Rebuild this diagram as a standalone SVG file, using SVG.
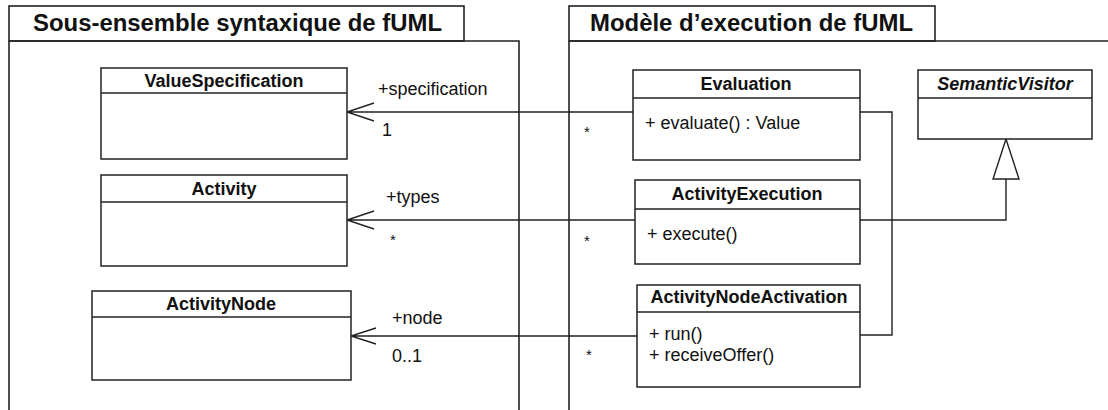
<svg xmlns="http://www.w3.org/2000/svg" width="1108" height="410" viewBox="0 0 1108 410">
<style>
.pk{fill:#fff;stroke:#222;stroke-width:1.6}
.pl{fill:none;stroke:#222;stroke-width:1.6}
.cls{fill:#fff;stroke:#222;stroke-width:1.5}
.ln{fill:none;stroke:#222;stroke-width:1.4}
.ptitle{font-family:"Liberation Sans",Arial,sans-serif;font-weight:bold;font-size:23px;fill:#111}
.cn{font-family:"Liberation Sans",Arial,sans-serif;font-weight:bold;font-size:18px;fill:#111;text-anchor:middle}
.it{font-style:italic}
.op{font-family:"Liberation Sans",Arial,sans-serif;font-size:18px;fill:#111}
.lb{font-family:"Liberation Sans",Arial,sans-serif;font-size:18px;fill:#111}
.st{font-family:"Liberation Sans",Arial,sans-serif;font-size:15px;fill:#111}
</style>
<rect width="1108" height="410" fill="#fff"/>
<g id="pkg-syntax">
<rect class="pk" x="9" y="6" width="455" height="35"/>
<path class="pl" d="M9,41 V412 M9,41 H519 V412"/>
<text class="ptitle" x="33" y="31" textLength="409" lengthAdjust="spacingAndGlyphs">Sous-ensemble syntaxique de fUML</text>
</g>
<g id="pkg-exec">
<rect class="pk" x="569" y="6" width="366" height="35"/>
<path class="pl" d="M569,41 V412 M569,41 H1110"/>
<text class="ptitle" x="590" y="31" textLength="323" lengthAdjust="spacingAndGlyphs">Modèle d’execution de fUML</text>
</g>
<g id="connectors">
<path class="ln" d="M633,112 H347 M374,103 L347,112 L374,121"/>
<path class="ln" d="M635,220 H347 M374,211 L347,220 L374,229"/>
<path class="ln" d="M637,336 H351 M376,328 L351,336 L376,344"/>
<path class="ln" d="M860,112 H892 V335 H860"/>
<path class="ln" d="M860,220 H1006 V179"/>
<polygon class="ln" points="1006,139 993,179 1019,179" fill="#fff"/>
<text class="lb" x="378" y="95">+specification</text>
<text class="lb" x="382" y="136">1</text>
<text class="st" x="584" y="137">*</text>
<text class="lb" x="386" y="203">+types</text>
<text class="st" x="390" y="245">*</text>
<text class="st" x="584" y="246">*</text>
<text class="lb" x="392" y="324">+node</text>
<text class="lb" x="392" y="362">0..1</text>
<text class="st" x="586" y="360">*</text>
</g>
<g id="ValueSpecification">
<rect class="cls" x="101" y="68" width="246" height="91"/>
<line class="cls" x1="101" y1="93" x2="347" y2="93"/>
<text class="cn" x="224" y="87">ValueSpecification</text>
</g>
<g id="Activity">
<rect class="cls" x="101" y="175" width="246" height="91"/>
<line class="cls" x1="101" y1="202" x2="347" y2="202"/>
<text class="cn" x="224" y="195">Activity</text>
</g>
<g id="ActivityNode">
<rect class="cls" x="92" y="291" width="259" height="89"/>
<line class="cls" x1="92" y1="317" x2="351" y2="317"/>
<text class="cn" x="221" y="310">ActivityNode</text>
</g>
<g id="Evaluation">
<rect class="cls" x="633" y="70" width="227" height="90"/>
<line class="cls" x1="633" y1="98" x2="860" y2="98"/>
<text class="cn" x="746" y="90">Evaluation</text>
<text class="op" x="645" y="129">+ evaluate() : Value</text>
</g>
<g id="ActivityExecution">
<rect class="cls" x="635" y="180" width="225" height="84"/>
<line class="cls" x1="635" y1="209" x2="860" y2="209"/>
<text class="cn" x="747" y="200">ActivityExecution</text>
<text class="op" x="647" y="240">+ execute()</text>
</g>
<g id="ActivityNodeActivation">
<rect class="cls" x="637" y="285" width="223" height="102"/>
<line class="cls" x1="637" y1="312" x2="860" y2="312"/>
<text class="cn" x="749" y="303">ActivityNodeActivation</text>
<text class="op" x="649" y="340">+ run()</text>
<text class="op" x="649" y="361">+ receiveOffer()</text>
</g>
<g id="SemanticVisitor">
<rect class="cls" x="918" y="70" width="174" height="69"/>
<line class="cls" x1="918" y1="98" x2="1092" y2="98"/>
<text class="cn it" x="1005" y="90">SemanticVisitor</text>
</g>
</svg>
